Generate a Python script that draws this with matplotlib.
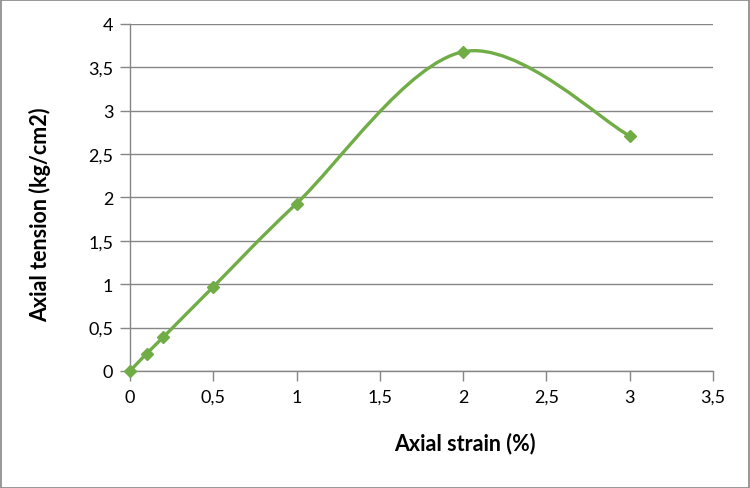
import numpy as np
import matplotlib
matplotlib.use("Agg")
import matplotlib.pyplot as plt
from matplotlib.path import Path
from matplotlib.patches import PathPatch, Rectangle
from matplotlib.ticker import FuncFormatter

strain = [0, 0.1, 0.2, 0.5, 1.0, 2.0, 3.0]
tension = [0, 0.2, 0.39, 0.97, 1.93, 3.68, 2.71]
xticks = [0, 0.5, 1, 1.5, 2, 2.5, 3, 3.5]
yticks = [0, 0.5, 1, 1.5, 2, 2.5, 3, 3.5, 4]

green = "#70AD47"
grid = "#868686"
plt.rcParams['font.family'] = ['Lato', 'DejaVu Sans']

fig = plt.figure(figsize=(7.5, 4.89), dpi=100)
ax = fig.add_axes([0.1733, 0.2393, 0.7774, 0.7096])

# smoothed line (Catmull-Rom style bezier, like Excel's smoothed line)
pts = np.column_stack([strain, tension])
verts = [pts[0]]
codes = [Path.MOVETO]
n = len(pts)
for i in range(n - 1):
    p0 = pts[max(i - 1, 0)]
    p1 = pts[i]
    p2 = pts[i + 1]
    p3 = pts[min(i + 2, n - 1)]
    c1 = p1 + (p2 - p0) / 6.0
    c2 = p2 - (p3 - p1) / 6.0
    verts += [c1, c2, p2]
    codes += [Path.CURVE4] * 3
ax.add_patch(PathPatch(Path(verts, codes), facecolor="none", edgecolor=green,
                       lw=2.4, zorder=3, capstyle="round", clip_on=False))
ax.plot(strain, tension, linestyle="none", marker="D", ms=6.5, color=green,
        zorder=4, clip_on=False)

ax.set_xlim(0, 3.5)
ax.set_ylim(0, 4)
ax.set_xticks(xticks)
ax.set_yticks(yticks)
fmt = FuncFormatter(lambda v, p: ("%g" % v).replace(".", ","))
ax.xaxis.set_major_formatter(fmt)
ax.yaxis.set_major_formatter(fmt)
ax.yaxis.grid(True, color=grid, lw=1)
ax.set_axisbelow(True)
for s in ["top", "right"]:
    ax.spines[s].set_visible(False)
for s in ["left", "bottom"]:
    ax.spines[s].set_color(grid)
    ax.spines[s].set_linewidth(1)
ax.tick_params(axis="both", colors=grid, length=7, width=1, labelsize=13,
               labelcolor="black")
ax.tick_params(axis="x", pad=6)
ax.tick_params(axis="y", pad=5)

ax.set_xlabel("Axial strain (%)", fontsize=15.5, fontweight="bold")
ax.set_ylabel("Axial tension (kg/cm2)", fontsize=15.5, fontweight="bold")
ax.xaxis.set_label_coords(0.575, -0.205)
ax.yaxis.set_label_coords(-0.154, 0.452)
ax.xaxis.label.set_va("center")
ax.yaxis.label.set_va("center")

fig.patches.append(Rectangle((0.001, 0.001), 0.997, 0.997, transform=fig.transFigure,
                             fill=False, edgecolor=grid, lw=1.2))

fig.savefig("out.png", dpi=100)
